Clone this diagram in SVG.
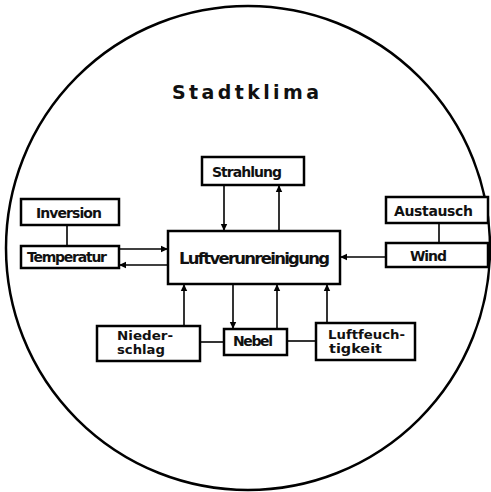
<svg xmlns="http://www.w3.org/2000/svg" width="491" height="492" viewBox="0 0 491 492">
<style>
.box{fill:#fff;stroke:#000;stroke-width:2.5}
.t{font-family:"DejaVu Sans","Liberation Sans",sans-serif;font-weight:bold;fill:#111}
.ln{stroke:#000;stroke-width:1.6;fill:none}
.ar{stroke:#000;stroke-width:1.6;fill:none;marker-end:url(#ah)}
</style>
<defs>
<marker id="ah" markerWidth="8" markerHeight="8" refX="7" refY="4" orient="auto" markerUnits="userSpaceOnUse">
<path d="M0,0.8 L7,4 L0,7.2 Z" fill="#000"/>
</marker>
</defs>
<rect width="491" height="492" fill="#fff"/>
<circle cx="248" cy="248" r="242" fill="none" stroke="#000" stroke-width="2.5"/>
<text class="t" x="172" y="99" font-size="19" textLength="147">Stadtklima</text>
<g id="connectors">
<line class="ar" x1="224" y1="185" x2="224" y2="231"/>
<line class="ar" x1="279" y1="231" x2="279" y2="185"/>
<line class="ar" x1="119" y1="249" x2="168" y2="249"/>
<line class="ar" x1="168" y1="265" x2="119" y2="265"/>
<line class="ar" x1="386" y1="257" x2="340" y2="257"/>
<line class="ln" x1="67" y1="225" x2="67" y2="246"/>
<line class="ln" x1="439" y1="223" x2="439" y2="243"/>
<line class="ar" x1="184" y1="326" x2="184" y2="284"/>
<line class="ar" x1="233" y1="284" x2="233" y2="329"/>
<line class="ar" x1="277" y1="329" x2="277" y2="284"/>
<line class="ar" x1="327" y1="323" x2="327" y2="284"/>
<line class="ln" x1="200" y1="342" x2="224" y2="342"/>
<line class="ln" x1="287" y1="341" x2="316" y2="341"/>
</g>
<g id="strahlung"><rect class="box" x="202" y="157" width="102" height="28"/><text class="t" x="212" y="177" font-size="14" textLength="70">Strahlung</text></g>
<g id="inversion"><rect class="box" x="21" y="199" width="98" height="26"/><text class="t" x="36" y="218" font-size="14" textLength="66">Inversion</text></g>
<g id="temperatur"><rect class="box" x="21" y="246" width="98" height="22"/><text class="t" x="27" y="262" font-size="14" textLength="80">Temperatur</text></g>
<g id="luftverunreinigung"><rect class="box" x="168" y="231" width="172" height="53"/><text class="t" x="179" y="264" font-size="16.5" textLength="151">Luftverunreinigung</text></g>
<g id="austausch"><rect class="box" x="386" y="197" width="102" height="26"/><text class="t" x="394" y="216" font-size="14" textLength="79">Austausch</text></g>
<g id="wind"><rect class="box" x="386" y="243" width="102" height="24"/><text class="t" x="410" y="261" font-size="14" textLength="37">Wind</text></g>
<g id="niederschlag"><rect class="box" x="97" y="326" width="103" height="35"/><text class="t" x="117" y="340" font-size="12.5" textLength="56" lengthAdjust="spacingAndGlyphs">Nieder-</text><text class="t" x="117" y="354" font-size="12.5" textLength="48" lengthAdjust="spacingAndGlyphs">schlag</text></g>
<g id="nebel"><rect class="box" x="224" y="329" width="63" height="26"/><text class="t" x="233" y="346" font-size="14" textLength="40">Nebel</text></g>
<g id="luftfeuchtigkeit"><rect class="box" x="316" y="323" width="99" height="37"/><text class="t" x="328" y="339" font-size="12.5" textLength="77" lengthAdjust="spacingAndGlyphs">Luftfeuch-</text><text class="t" x="329" y="353" font-size="12.5" textLength="53" lengthAdjust="spacingAndGlyphs">tigkeit</text></g>
</svg>
